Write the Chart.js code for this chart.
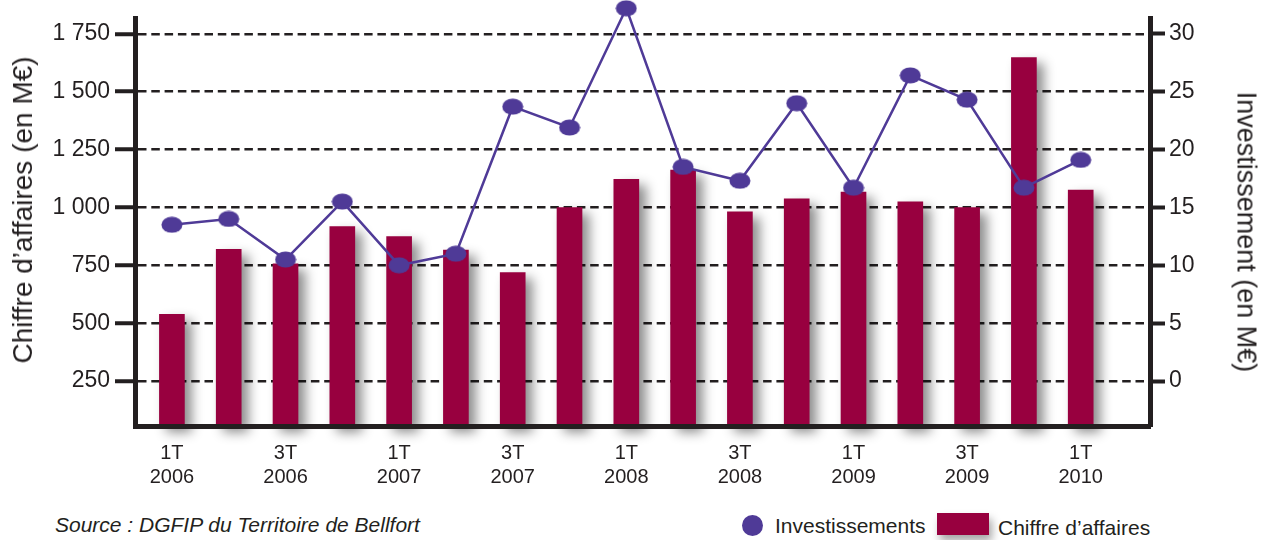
<!DOCTYPE html>
<html lang="fr">
<head>
<meta charset="utf-8">
<title>Chiffre d'affaires et investissements</title>
<script src="https://cdn.jsdelivr.net/npm/chart.js@4/dist/chart.umd.min.js"></script>
<style>
  body { margin: 0; background: #fff; }
  #wrap { position: relative; width: 1268px; height: 540px; font-family: "Liberation Sans", Arial, Helvetica, sans-serif; color: #231f20; }
  #box { position: absolute; left: 0; top: 0; width: 1268px; height: 500px; }
  .txt { position: absolute; font-size: 21px; line-height: 21px; white-space: nowrap; }
  .axt { position: absolute; white-space: nowrap; line-height: 1; }
  #tLeft { left: 23px; top: 210px; font-size: 28px; transform: translate(-50%, -50%) rotate(-90deg); }
  #tRight { left: 1246px; top: 232px; font-size: 27px; transform: translate(-50%, -50%) rotate(90deg); }
  #source { left: 55px; top: 514px; font-style: italic; }
  #dot { position: absolute; left: 742px; top: 515px; width: 21px; height: 21px; border-radius: 50%; background: #4f3a97; }
  #lgInv { left: 775px; top: 515px; }
  #rect { position: absolute; left: 937px; top: 513px; width: 52px; height: 22px; background: #98003f; box-shadow: 3px 6px 8px rgba(0,0,0,0.35); }
  #lgCa { left: 998px; top: 517px; }
</style>
</head>
<body>
<div id="wrap">
  <div id="box"><canvas id="chart"></canvas></div>
  <div class="axt" id="tLeft">Chiffre d’affaires (en M€)</div>
  <div class="axt" id="tRight">Investissement (en M€)</div>
  <div class="txt" id="source">Source : DGFIP du Territoire de Bellfort</div>
  <div id="dot"></div>
  <div class="txt" id="lgInv">Investissements</div>
  <div id="rect"></div>
  <div class="txt" id="lgCa">Chiffre d’affaires</div>
</div>
<script>
// trimestres, 1T 2006 -> 1T 2010
const categories = [
    '1T 2006', '2T 2006', '3T 2006', '4T 2006',
    '1T 2007', '2T 2007', '3T 2007', '4T 2007',
    '1T 2008', '2T 2008', '3T 2008', '4T 2008',
    '1T 2009', '2T 2009', '3T 2009', '4T 2009',
    '1T 2010'
];
// chiffre d'affaires en M€ (axe gauche)
const chiffreAffaires = [538, 819, 757, 917, 874, 816, 719, 999, 1122, 1162, 981, 1037, 1067, 1024, 1000, 1648, 1075];
// investissements en M€ (axe droit)
const investissements = [13.5, 14.0, 10.5, 15.5, 10.0, 11.0, 23.7, 21.9, 32.2, 18.5, 17.3, 24.0, 16.7, 26.4, 24.3, 16.7, 19.1];

const leftTicks = [250, 500, 750, 1000, 1250, 1500, 1750];
const leftTickLabels = ['250', '500', '750', '1 000', '1 250', '1 500', '1 750'];
const rightTicks = [0, 5, 10, 15, 20, 25, 30];

// axis ranges (the original axes do not start at zero)
const leftMin = 56, leftMax = 1815;
const rightMin = -3.88, rightMax = 31.29;

const ink = '#231f20';
const purple = '#4f3a97';
const wine = '#98003f';
const font = '"Liberation Sans", Arial, Helvetica, sans-serif';

// oval marker like the original
const dot = document.createElement('canvas');
dot.width = 22;
dot.height = 17;
const dctx = dot.getContext('2d');
dctx.fillStyle = purple;
dctx.beginPath();
dctx.ellipse(11, 8.5, 10.5, 8, 0, 0, Math.PI * 2);
dctx.fill();

// soft shadow behind the bars
const barShadow = {
    id: 'barShadow',
    beforeDatasetDraw(chart, args) {
        if (args.meta.type !== 'bar') return;
        const ctx = chart.ctx;
        ctx.save();
        ctx.shadowColor = 'rgba(0, 0, 0, 0.45)';
        ctx.shadowBlur = 12;
        ctx.shadowOffsetX = 7;
        ctx.shadowOffsetY = 6;
    },
    afterDatasetDraw(chart, args) {
        if (args.meta.type !== 'bar') return;
        chart.ctx.restore();
    }
};

const ctx = document.getElementById('chart').getContext('2d');

new Chart(ctx, {
    type: 'bar',
    data: {
        datasets: [
            {
                type: 'line',
                label: 'Investissements',
                data: investissements.map((v, i) => ({x: i, y: v})),
                yAxisID: 'yRight',
                borderColor: purple,
                borderWidth: 2.5,
                pointStyle: dot,
                pointRadius: 12,
                pointBorderWidth: 0,
                tension: 0,
                clip: false
            },
            {
                type: 'bar',
                label: "Chiffre d'affaires",
                data: chiffreAffaires.map((v, i) => ({x: i, y: v})),
                yAxisID: 'yLeft',
                backgroundColor: wine,
                barThickness: 25,
                base: leftMin,
                clip: false
            }
        ]
    },
    options: {
        responsive: true,
        maintainAspectRatio: false,
        animation: false,
        layout: {padding: {top: 18, left: 0, right: 0, bottom: 0}},
        plugins: {
            legend: {display: false},
            tooltip: {enabled: false}
        },
        scales: {
            x: {
                type: 'linear',
                offset: false,
                min: -0.65,
                max: 17.22,
                afterFit: (scale) => { scale.height = 74; },
                afterBuildTicks: (scale) => {
                    scale.ticks = categories.map((c, i) => i).filter(i => i % 2 === 0).map(i => ({value: i}));
                },
                ticks: {
                    autoSkip: false,
                    maxRotation: 0,
                    padding: 15,
                    color: ink,
                    font: {family: font, size: 20},
                    callback: (v) => categories[v] ? categories[v].split(' ') : ''
                },
                grid: {display: false, drawTicks: false},
                border: {display: true, color: ink, width: 5, z: 1}
            },
            yLeft: {
                position: 'left',
                beginAtZero: false,
                min: leftMin,
                max: leftMax,
                afterFit: (scale) => { scale.width = 135; },
                afterBuildTicks: (scale) => {
                    scale.ticks = leftTicks.map(v => ({value: v}));
                },
                ticks: {
                    padding: 5,
                    color: ink,
                    font: {family: font, size: 23},
                    callback: (v) => leftTickLabels[leftTicks.indexOf(v)]
                },
                grid: {
                    color: ink,
                    lineWidth: 2.5,
                    drawTicks: true,
                    tickLength: 20,
                    tickWidth: 4,
                    tickColor: ink
                },
                border: {display: true, color: ink, width: 5, dash: [8.5, 4.8], z: 1}
            },
            yRight: {
                position: 'right',
                min: rightMin,
                max: rightMax,
                afterFit: (scale) => { scale.width = 118; },
                afterBuildTicks: (scale) => {
                    scale.ticks = rightTicks.map(v => ({value: v}));
                },
                ticks: {
                    padding: 4,
                    color: ink,
                    font: {family: font, size: 23}
                },
                grid: {
                    drawOnChartArea: false,
                    drawTicks: true,
                    tickLength: 15,
                    tickWidth: 4,
                    tickColor: ink
                },
                border: {display: true, color: ink, width: 5, z: 1}
            }
        }
    },
    plugins: [barShadow]
});
</script>
</body>
</html>
